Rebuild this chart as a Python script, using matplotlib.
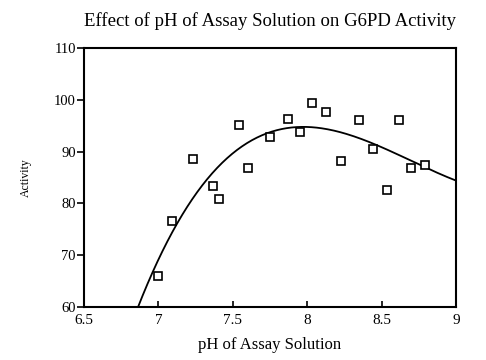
import matplotlib
matplotlib.use('Agg')
import matplotlib.pyplot as plt
import numpy as np

# pH readings and measured G6PD activity
ph = [7.00, 7.09, 7.23, 7.37, 7.41, 7.54, 7.60, 7.75, 7.87, 7.95,
      8.03, 8.13, 8.23, 8.35, 8.44, 8.54, 8.62, 8.70, 8.79]
activity = [65.9, 76.7, 88.5, 83.4, 80.9, 95.1, 86.9, 92.8, 96.2, 93.8,
            99.4, 97.7, 88.1, 96.1, 90.4, 82.5, 96.0, 86.9, 87.5]

x_ticks = [6.5, 7, 7.5, 8, 8.5, 9]
y_ticks = [60, 70, 80, 90, 100, 110]

plt.rcParams['font.family'] = ['Liberation Serif', 'DejaVu Serif']

fig = plt.figure(figsize=(4.86, 3.6), dpi=100)
ax = fig.add_axes([0.173, 0.147, 0.765, 0.72])

# cubic fit through the measurements
coef = np.polyfit(ph, activity, 3)
xs = np.linspace(6.5, 9, 300)
ax.plot(xs, np.polyval(coef, xs), color='black', linewidth=1.3)

ax.plot(ph, activity, linestyle='none', marker='s', markersize=6,
        markerfacecolor='white', markeredgecolor='black', markeredgewidth=1.2)

ax.set_xlim(6.5, 9)
ax.set_ylim(60, 110)
ax.set_xticks(x_ticks)
ax.set_xticklabels(['6.5', '7', '7.5', '8', '8.5', '9'])
ax.set_yticks(y_ticks)
ax.tick_params(axis='x', direction='in', length=4, width=1.2, labelsize=11, pad=5)
ax.tick_params(axis='y', direction='out', length=5, width=1.2, labelsize=10.5, pad=1)
for s in ax.spines.values():
    s.set_linewidth(1.5)

ax.set_xlabel('pH of Assay Solution', fontsize=12, labelpad=7)
ax.set_ylabel('Activity', fontsize=8.5, labelpad=16)
ax.set_title('Effect of pH of Assay Solution on G6PD Activity', fontsize=13.5, pad=16)

fig.savefig('out.png', dpi=100)
